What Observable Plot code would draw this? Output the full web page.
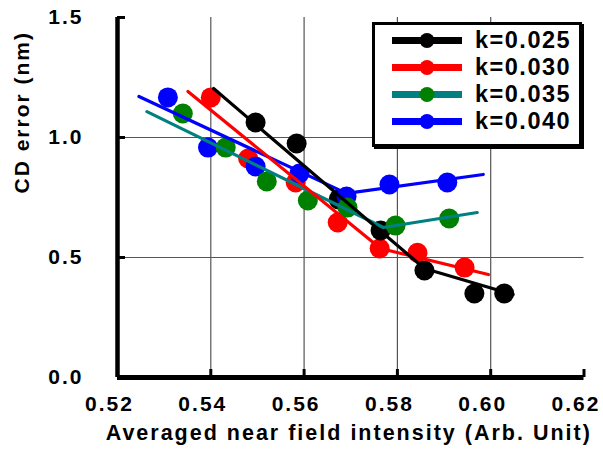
<!DOCTYPE html>
<html>
<head>
<meta charset="utf-8">
<script src="https://cdn.jsdelivr.net/npm/d3@7"></script>
<script src="https://cdn.jsdelivr.net/npm/@observablehq/plot@0.6"></script>
<style>
  body { margin: 0; background: #fff; }
  #wrap { position: relative; width: 603px; height: 466px; font-family: "Liberation Sans", Arial, sans-serif; }
  #legend { position: absolute; left: 372px; top: 22px; width: 204px; height: 117px; border: 3px solid #000; box-shadow: 2px 2px 0 #000; background: #fff; padding-top: 2px; box-sizing: content-box; }
  .row { display: flex; align-items: center; height: 27px; }
  .row svg { margin-left: 17px; display: block; }
  .row span { margin-left: 13px; font-size: 23.5px; letter-spacing: 1.5px; font-weight: bold; line-height: 27px; }
</style>
</head>
<body>
<div id="wrap"><div id="chart"></div><div id="legend"></div></div>
<script>
// Series labels and colours
const seriesNames = ["k=0.025", "k=0.030", "k=0.035", "k=0.040"];
const dotColors = ["#000000", "#ff0000", "#008000", "#0000ff"];
const lineColors = ["#000000", "#ff0000", "#008080", "#0000ff"];

// Measured points
const x025 = [0.5496, 0.5584, 0.5674, 0.5764, 0.5858, 0.5965, 0.6029];
const y025 = [1.0625, 0.975, 0.742, 0.6125, 0.446, 0.35, 0.35];
const x030 = [0.5400, 0.5480, 0.5582, 0.5672, 0.5762, 0.5843, 0.5944];
const y030 = [1.167, 0.9125, 0.8125, 0.646, 0.5375, 0.52, 0.458];
const x035 = [0.5340, 0.5432, 0.5520, 0.5608, 0.5693, 0.5796, 0.5911];
const y035 = [1.10, 0.958, 0.817, 0.7375, 0.708, 0.633, 0.6625];
const x040 = [0.5308, 0.5394, 0.5496, 0.5590, 0.5691, 0.5783, 0.5907];
const y040 = [1.167, 0.958, 0.879, 0.85, 0.754, 0.804, 0.8125];

// Fitted (piecewise) trend lines: start, break, end
const fitX025 = [0.5406, 0.5858, 0.6048];
const fitY025 = [1.204, 0.454, 0.346];
const fitX030 = [0.5351, 0.5764, 0.5995];
const fitY030 = [1.192, 0.5375, 0.429];
const fitX035 = [0.5263, 0.5770, 0.5971];
const fitY035 = [1.108, 0.625, 0.6875];
const fitX040 = [0.5246, 0.5691, 0.5984];
const fitY040 = [1.171, 0.767, 0.846];

// Axis ticks
const xTicks = [0.52, 0.54, 0.56, 0.58, 0.60, 0.62];
const yTicks = [0.0, 0.5, 1.0, 1.5];
const xGrid = [0.54, 0.56, 0.58, 0.60];
const yGrid = [0.5, 1.0];
const xLabel = "Averaged near field intensity (Arb. Unit)";
const yLabel = "CD error (nm)";

const xs = [x025, x030, x035, x040];
const ys = [y025, y030, y035, y040];
const fxs = [fitX025, fitX030, fitX035, fitX040];
const fys = [fitY025, fitY030, fitY035, fitY040];

const points = [];
xs.forEach((arr, i) => arr.forEach((x, j) => points.push({s: i, x, y: ys[i][j]})));
const fits = [];
fxs.forEach((arr, i) => arr.forEach((x, j) => fits.push({s: i, x, y: fys[i][j]})));

const dotOrder = [1, 0, 3, 2];
const lineOrder = [2, 3, 1, 0];

const marks = [
  Plot.gridX(xGrid, {stroke: "#555", strokeOpacity: 1, strokeWidth: 1.2}),
  Plot.gridY(yGrid, {stroke: "#555", strokeOpacity: 1, strokeWidth: 1.2}),
  ...dotOrder.map(i => Plot.dot(points.filter(d => d.s === i), {x: "x", y: "y", r: 10, fill: dotColors[i], stroke: "none"})),
  ...lineOrder.map(i => Plot.line(fits.filter(d => d.s === i), {x: "x", y: "y", stroke: lineColors[i], strokeWidth: 3.2})),
  Plot.ruleX([0.52], {strokeWidth: 4.5, stroke: "#000"}),
  Plot.ruleY([0], {strokeWidth: 5, stroke: "#000"}),
  Plot.axisX({ticks: xTicks, tickSize: -8, strokeWidth: 3, fill: "none", label: null}),
  Plot.axisY({ticks: yTicks, tickSize: -8, strokeWidth: 3, fill: "none", label: null}),
  Plot.axisX({ticks: xTicks, tickSize: 0, tickPadding: 19, dx: -8, tickFormat: d3.format(".2f"), label: null, fontSize: 21, fontWeight: "bold"}),
  Plot.axisY({ticks: yTicks, tickSize: 0, tickPadding: 34, tickFormat: d3.format(".1f"), label: null, fontSize: 21, fontWeight: "bold"}),
  Plot.text([xLabel], {frameAnchor: "bottom", dy: 62, dx: -2, text: d => d, fontSize: 21.5, fontWeight: "bold", fill: "#000"}),
  Plot.text([yLabel], {frameAnchor: "left", dx: -95, dy: -4, rotate: -90, text: d => d, fontSize: 21, fontWeight: "bold", fill: "#000"})
];

const chart = Plot.plot({
  width: 603,
  height: 466,
  marginLeft: 117,
  marginRight: 19.5,
  marginTop: 17,
  marginBottom: 89,
  x: {domain: [0.52, 0.62], axis: null},
  y: {domain: [0, 1.5], axis: null},
  style: {fontFamily: "'Liberation Sans', Arial, sans-serif", letterSpacing: "2px", color: "#000", background: "#fff", overflow: "visible"},
  marks
});
document.getElementById("chart").appendChild(chart);

// Legend
const legend = document.getElementById("legend");
seriesNames.forEach((name, i) => {
  const row = document.createElement("div");
  row.className = "row";
  row.innerHTML = `<svg width="70" height="27"><line x1="0" y1="13.5" x2="70" y2="13.5" stroke="${lineColors[i]}" stroke-width="7"/><circle cx="35" cy="13.5" r="7.5" fill="${dotColors[i]}"/></svg><span>${name}</span>`;
  legend.appendChild(row);
});
</script>
</body>
</html>
